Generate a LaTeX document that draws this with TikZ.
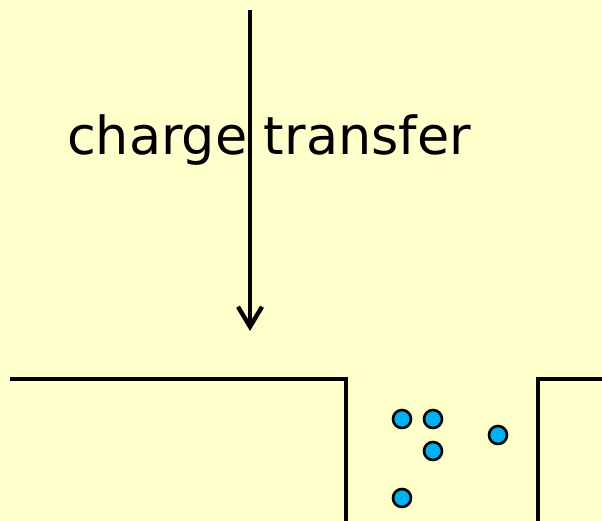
\documentclass[tikz,border=0pt]{standalone}
\usepackage{fontspec}
\setmainfont{DejaVu Sans}
\usetikzlibrary{arrows.meta}
\definecolor{paper}{HTML}{FFFFCC}
\definecolor{ion}{HTML}{00B0F0}
\begin{document}
\begin{tikzpicture}[x=1pt,y=-1pt,
  wall/.style={line width=3.2pt, line join=miter},
  ionball/.style={circle, draw=black, line width=2.6pt, fill=ion, minimum size=18pt, inner sep=0pt},
  label/.style={inner sep=0pt, anchor=base, font=\fontsize{52.4}{60}\selectfont}]
  % background
  \fill[paper] (0,0) rectangle (602,521);
  \useasboundingbox (0,0) rectangle (602,521);

  % arrow and caption
  \coordinate (top) at (250,10);
  \coordinate (bottom) at (250,331);
  \draw[line width=4.4pt, -{Straight Barb[length=20pt, width=24pt, line width=4.4pt]}] (top) -- (bottom);
  \node[label] (caption) at (269,155) {charge transfer};

  % electrode walls with the gap between them
  \coordinate (l1) at (10,379);
  \coordinate (l2) at (346,379);
  \coordinate (l3) at (346,523);
  \draw[wall] (l1) -- (l2) -- (l3);
  \coordinate (r1) at (538,523);
  \coordinate (r2) at (538,379);
  \coordinate (r3) at (604,379);
  \draw[wall] (r1) -- (r2) -- (r3);

  % ions in the gap
  \node[ionball] (i1) at (402,419) {};
  \node[ionball] (i2) at (433,419) {};
  \node[ionball] (i3) at (433,451) {};
  \node[ionball] (i4) at (498,435) {};
  \node[ionball] (i5) at (402,498) {};
\end{tikzpicture}
\end{document}
